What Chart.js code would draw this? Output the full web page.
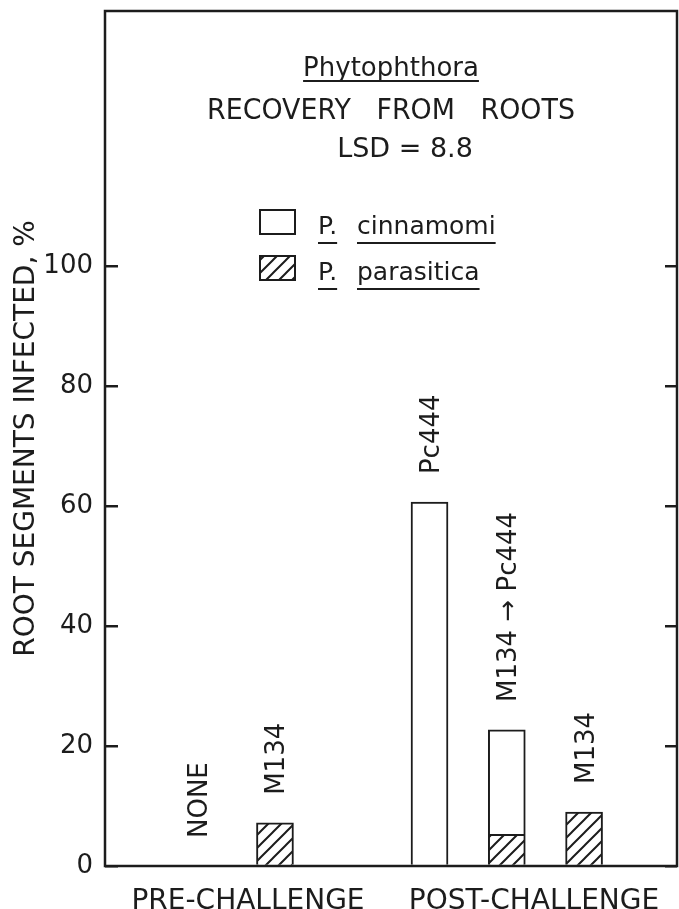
<!DOCTYPE html>
<html>
<head>
<meta charset="utf-8">
<script src="https://cdn.jsdelivr.net/npm/chart.js@4.4.1/dist/chart.umd.min.js"></script>
<style>
  html, body { margin: 0; padding: 0; background: #fff; }
  canvas { display: block; }
</style>
</head>
<body>
<canvas id="rootChart" width="679" height="909"></canvas>
<script>
// Bars from left to right; the empty slot keeps the gap between the two groups
const categories = ['NONE', 'M134', '', 'Pc444', 'M134 \u2192 Pc444', 'M134'];
const groups = ['PRE-CHALLENGE', 'POST-CHALLENGE'];

// root segments infected, %
const cinnamomi = [null, null, null, 60.7, 17.4, null];
const parasitica = [null, 7.2, null, null, 5.3, 9.0];

const yTicks = [0, 20, 40, 60, 80, 100];
const yMax = 142.6;

const ink = '#1c1c1c';
const fontFamily = "'DejaVu Sans', sans-serif";

// diagonal hatching for P. parasitica
function makeHatch() {
    const n = 13;
    const c = document.createElement('canvas');
    c.width = n;
    c.height = n;
    const g = c.getContext('2d');
    g.fillStyle = '#fff';
    g.fillRect(0, 0, n, n);
    g.strokeStyle = ink;
    g.lineWidth = 2;
    g.beginPath();
    g.moveTo(-1, n + 1); g.lineTo(n + 1, -1);
    g.moveTo(-1, 1); g.lineTo(1, -1);
    g.moveTo(n - 1, n + 1); g.lineTo(n + 1, n - 1);
    g.stroke();
    return g.createPattern(c, 'repeat');
}
const hatch = makeHatch();

const toPoints = arr => arr.map((v, i) => ({ x: i, y: v }));

function setTicks(scale) {
    scale.ticks = yTicks.map(v => ({ value: v }));
}

// no extra room for the tick labels at the ends of the axes
function noEdgePadding(scale) {
    scale.paddingTop = 0;
    scale.paddingBottom = 0;
    scale.paddingLeft = 0;
    scale.paddingRight = 0;
}

// frame, title block, legend and the rotated labels over the bars
const annotations = {
    id: 'annotations',
    afterDatasetsDraw(chart) {
        const { ctx, chartArea: a, scales } = chart;
        const cx = (a.left + a.right) / 2;
        ctx.save();
        ctx.fillStyle = ink;
        ctx.strokeStyle = ink;
        ctx.lineWidth = 2.5;
        ctx.strokeRect(a.left, a.top, a.right - a.left, a.bottom - a.top);

        // title block
        ctx.textAlign = 'center';
        ctx.textBaseline = 'alphabetic';
        ctx.font = '26px ' + fontFamily;
        ctx.fillText('Phytophthora', cx, a.top + 65);
        const w = ctx.measureText('Phytophthora').width;
        ctx.fillRect(cx - w / 2, a.top + 69, w, 2);
        ctx.font = '29px ' + fontFamily;
        ctx.fillText('RECOVERY   FROM   ROOTS', cx, a.top + 108, 368);
        ctx.font = '27px ' + fontFamily;
        ctx.fillText('LSD = 8.8', cx + 14, a.top + 146);

        // legend, cinnamomi first
        ctx.textAlign = 'left';
        ctx.font = '25px ' + fontFamily;
        ctx.lineWidth = 2;
        const sets = chart.data.datasets.slice().reverse();
        sets.forEach((ds, k) => {
            const top = a.top + 199 + k * 46;
            ctx.fillStyle = ds.backgroundColor;
            ctx.fillRect(a.left + 155, top, 35, 24);
            ctx.strokeRect(a.left + 155, top, 35, 24);
            ctx.fillStyle = ink;
            const [genus, species] = ds.label.split(' ');
            const base = top + 24;
            ctx.fillText(genus, a.left + 213, base);
            ctx.fillRect(a.left + 213, base + 8, ctx.measureText(genus).width, 2);
            ctx.fillText(species, a.left + 252, base);
            ctx.fillRect(a.left + 252, base + 8, ctx.measureText(species).width, 2);
        });

        // rotated labels above each bar
        ctx.font = '26px ' + fontFamily;
        categories.forEach((name, i) => {
            if (!name) return;
            const total = (cinnamomi[i] || 0) + (parasitica[i] || 0);
            const x = scales.x.getPixelForValue(i);
            const y = scales.y.getPixelForValue(total) - 28;
            ctx.save();
            ctx.translate(x + 9.5, y);
            ctx.rotate(-Math.PI / 2);
            ctx.fillText(name, 0, 0);
            ctx.restore();
        });
        ctx.restore();
    }
};

const ctx = document.getElementById('rootChart').getContext('2d');
const rootChart = new Chart(ctx, {
    type: 'bar',
    data: {
        datasets: [{
            label: 'P. parasitica',
            data: toPoints(parasitica),
            backgroundColor: hatch,
            borderColor: ink,
            borderWidth: 2,
            barThickness: 37
        }, {
            label: 'P. cinnamomi',
            data: toPoints(cinnamomi),
            backgroundColor: '#ffffff',
            borderColor: ink,
            borderWidth: 2,
            barThickness: 37
        }]
    },
    options: {
        responsive: false,
        animation: false,
        layout: { padding: { top: 11 } },
        plugins: {
            legend: { display: false },
            tooltip: { enabled: false }
        },
        scales: {
            x: {
                type: 'linear',
                display: false,
                stacked: true,
                min: -0.737,
                max: 5.74
            },
            xg: {
                type: 'category',
                labels: groups,
                position: 'bottom',
                offset: true,
                grid: { display: false },
                border: { display: false },
                ticks: {
                    color: ink,
                    font: { family: fontFamily, size: 28 },
                    padding: 11,
                    maxRotation: 0,
                    autoSkip: false
                },
                afterFit: s => { s.height = 43; noEdgePadding(s); }
            },
            y: {
                position: 'left',
                stacked: true,
                min: 0,
                max: yMax,
                afterBuildTicks: setTicks,
                grid: { drawOnChartArea: false, tickLength: -13, color: ink, lineWidth: 2.5 },
                border: { display: false },
                ticks: {
                    color: ink,
                    font: { family: fontFamily, size: 26 },
                    padding: 25
                },
                title: {
                    display: true,
                    text: 'ROOT SEGMENTS INFECTED, %',
                    color: ink,
                    font: { family: fontFamily, size: 28 },
                    padding: { top: 10 }
                },
                afterFit: s => { s.width = 105; noEdgePadding(s); }
            },
            y2: {
                position: 'right',
                min: 0,
                max: yMax,
                afterBuildTicks: setTicks,
                grid: { drawOnChartArea: false, tickLength: -12, color: ink, lineWidth: 2.5 },
                border: { display: false },
                ticks: { display: false },
                afterFit: s => { s.width = 2; noEdgePadding(s); }
            }
        }
    },
    plugins: [annotations]
});
</script>
</body>
</html>
